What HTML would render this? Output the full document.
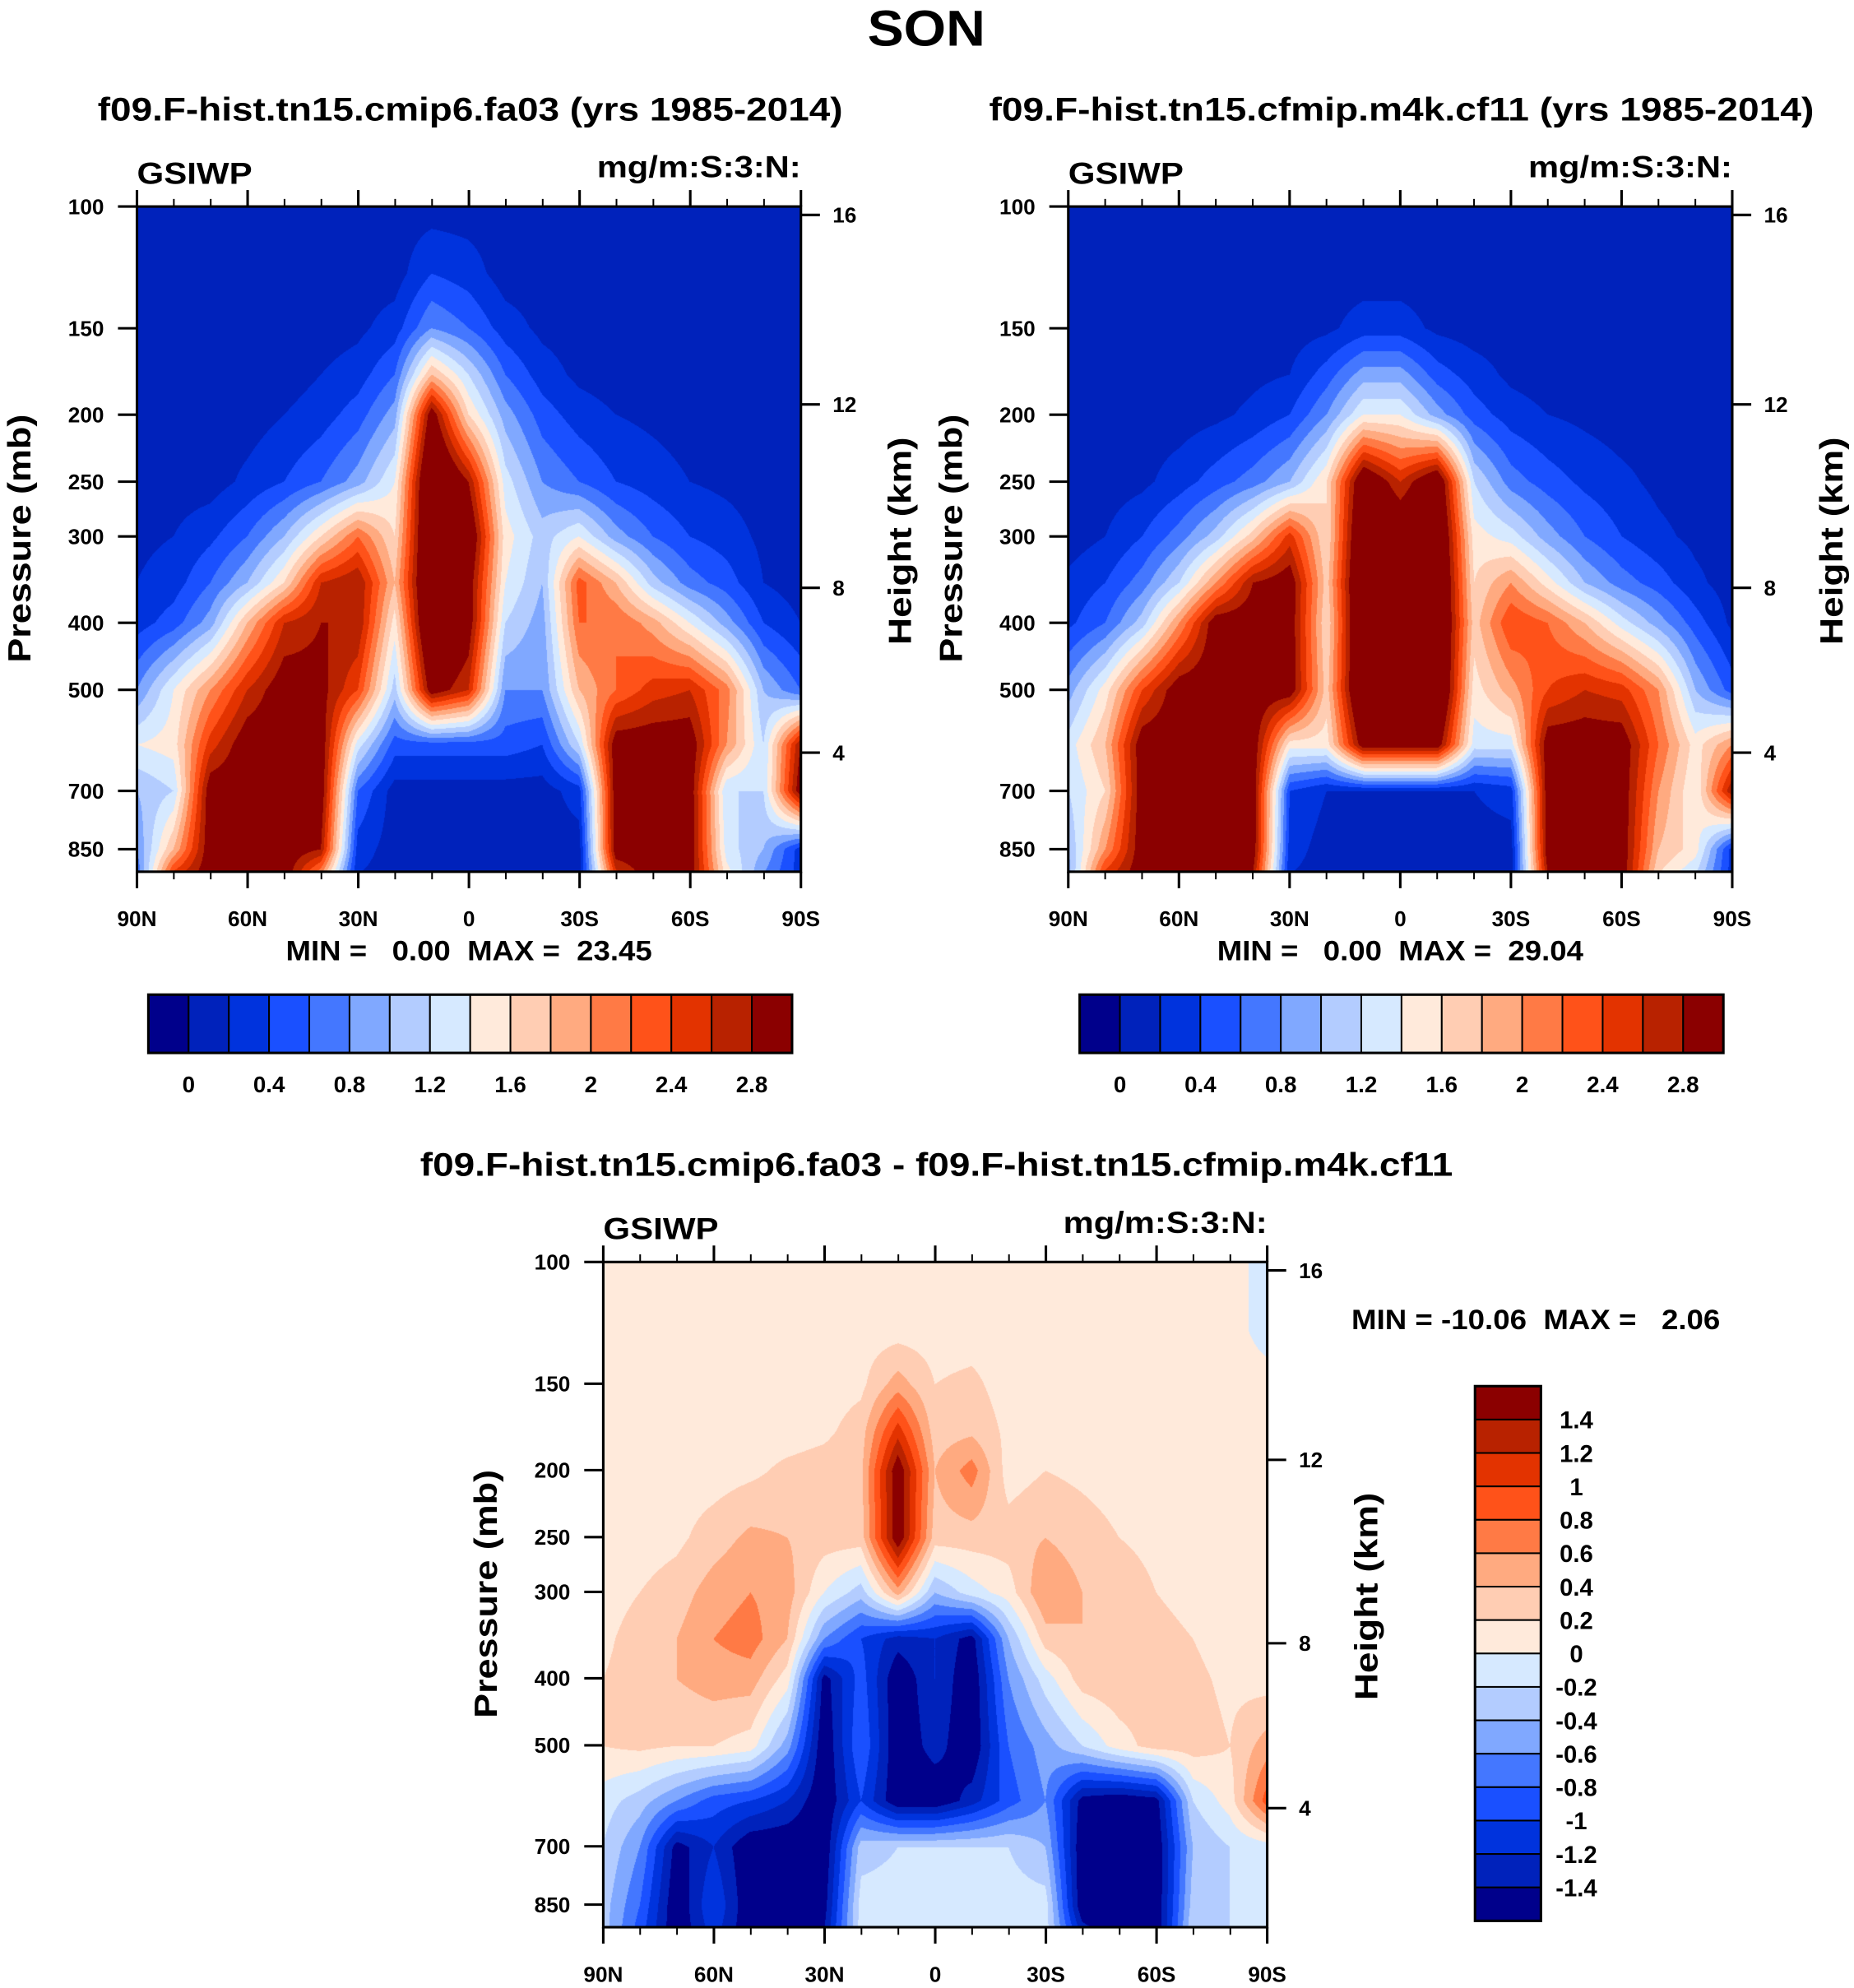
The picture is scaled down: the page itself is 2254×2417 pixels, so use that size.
<!DOCTYPE html>
<html><head><meta charset="utf-8"><style>
html,body{margin:0;padding:0;background:#fff}
#wrap{position:relative;width:2254px;height:2417px;overflow:hidden;background:#fff}
canvas{position:absolute}
svg{position:absolute;left:0;top:0}
text{font-family:"Liberation Sans",Arial,sans-serif;font-weight:bold;fill:#000}
</style></head><body>
<div id="wrap">
<canvas id="c0"></canvas>
<canvas id="c1"></canvas>
<canvas id="c2"></canvas>
<svg id="svg" width="2254" height="2417" viewBox="0 0 1463 1569"></svg>
</div>
<script>
// ---- data ----
const lats = [90,80,70,60,50,40,30,20,10,0,-10,-20,-30,-40,-50,-60,-70,-80,-90];
const levels = [100,125,150,175,200,250,300,350,400,500,600,700,850,925];
const ctrlValues = [
[0.1,0.1,0.1,0.1,0.1,0.1,0.1,0.1,0.1,0.1,0.1,0.1,0.1,0.1,0.1,0.1,0.1,0.1,0.1],
[0.1,0.1,0.1,0.1,0.1,0.1,0.1,0.1,0.4,0.3,0.1,0.1,0.1,0.1,0.1,0.1,0.1,0.1,0.1],
[0.1,0.1,0.1,0.1,0.1,0.1,0.15,0.3,0.8,0.6,0.3,0.15,0.1,0.1,0.1,0.1,0.1,0.1,0.1],
[0.1,0.1,0.1,0.1,0.1,0.2,0.3,0.6,1.8,1.2,0.6,0.3,0.15,0.1,0.1,0.1,0.1,0.1,0.1],
[0.1,0.1,0.1,0.1,0.2,0.3,0.5,0.9,3.0,1.6,0.9,0.5,0.3,0.2,0.15,0.1,0.1,0.1,0.1],
[0.1,0.1,0.1,0.25,0.4,0.6,0.9,1.4,3.5,2.8,1.3,0.8,0.6,0.4,0.3,0.2,0.15,0.1,0.1],
[0.15,0.2,0.35,0.6,1.0,1.6,2.2,1.6,3.5,3.2,1.5,1.1,1.4,0.9,0.6,0.4,0.3,0.15,0.1],
[0.2,0.3,0.6,1.0,1.6,2.6,2.8,1.8,3.5,3.0,1.4,1.0,2.3,1.8,1.1,0.7,0.5,0.2,0.1],
[0.3,0.5,0.9,1.8,2.6,2.8,2.8,1.5,3.5,3.0,1.2,0.9,2.2,2.2,1.9,1.4,0.9,0.4,0.2],
[0.8,1.4,2.0,2.6,3.0,2.9,2.4,1.1,3.0,2.6,0.8,0.8,1.8,2.2,2.5,2.6,2.1,1.0,0.6],
[1.4,1.5,2.5,3.0,3.0,3.0,1.3,0.5,0.5,0.5,0.5,0.4,1.2,3.0,3.0,3.0,2.0,1.2,2.8],
[1.0,1.2,3.0,3.0,3.0,3.0,0.6,0.1,0.1,0.1,0.1,0.1,0.3,3.0,3.0,3.0,1.2,1.2,3.0],
[0.8,1.8,3.0,3.0,3.0,2.8,0.3,0.1,0.1,0.1,0.1,0.1,0.1,3.0,3.0,3.0,1.3,1.0,0.3],
[0.6,2.5,3.0,3.0,3.0,2.0,0.2,0.1,0.1,0.1,0.1,0.1,0.1,2.5,3.0,3.0,1.5,0.8,0.3]];
const m4kValues = [
[0.1,0.1,0.1,0.1,0.1,0.1,0.1,0.1,0.1,0.1,0.1,0.1,0.1,0.1,0.1,0.1,0.1,0.1,0.1],
[0.1,0.1,0.1,0.1,0.1,0.1,0.1,0.1,0.1,0.1,0.1,0.1,0.1,0.1,0.1,0.1,0.1,0.1,0.1],
[0.1,0.1,0.1,0.1,0.1,0.1,0.1,0.15,0.3,0.3,0.15,0.1,0.1,0.1,0.1,0.1,0.1,0.1,0.1],
[0.1,0.1,0.1,0.1,0.1,0.15,0.2,0.5,0.9,0.9,0.5,0.3,0.15,0.1,0.1,0.1,0.1,0.1,0.1],
[0.1,0.1,0.1,0.1,0.15,0.25,0.4,0.8,1.4,1.4,0.9,0.5,0.3,0.2,0.15,0.1,0.1,0.1,0.1],
[0.1,0.1,0.15,0.3,0.5,0.7,1.0,1.6,3.2,2.6,3.2,1.2,0.7,0.5,0.35,0.25,0.15,0.1,0.1],
[0.1,0.2,0.4,0.7,1.1,1.7,2.5,1.6,3.4,3.2,3.4,1.5,1.3,0.9,0.6,0.4,0.25,0.15,0.1],
[0.25,0.4,0.7,1.2,2.0,2.8,3.0,1.7,3.5,3.5,3.5,1.6,2.0,1.5,1.0,0.7,0.5,0.25,0.1],
[0.35,0.6,1.1,2.0,3.0,3.0,3.0,1.6,3.5,3.5,3.5,1.7,2.4,2.2,1.8,1.3,0.9,0.5,0.15],
[0.9,1.5,2.4,3.0,3.0,3.0,3.0,1.7,3.5,3.5,3.5,1.5,1.9,2.4,2.6,2.5,2.0,1.0,0.5],
[1.3,1.8,3.0,3.0,3.0,3.0,1.5,1.5,3.0,3.0,3.0,1.3,1.3,3.0,3.0,3.0,2.2,1.5,2.0],
[1.2,1.6,3.0,3.0,3.0,3.0,0.4,0.2,0.2,0.2,0.2,0.2,0.3,3.0,3.0,3.0,2.0,1.4,2.8],
[1.0,2.0,3.0,3.0,3.0,3.0,0.3,0.1,0.1,0.1,0.1,0.1,0.1,3.0,3.0,3.0,1.8,1.5,0.3],
[0.9,2.5,3.0,3.0,3.0,2.8,0.2,0.1,0.1,0.1,0.1,0.1,0.1,2.8,3.0,3.0,1.6,1.2,0.3]];
const diffValues = [
[0.1,0.1,0.1,0.1,0.1,0.1,0.1,0.1,0.1,0.1,0.1,0.1,0.1,0.1,0.1,0.1,0.1,0.1,-0.1],
[0.1,0.1,0.1,0.1,0.1,0.1,0.1,0.1,0.1,0.1,0.1,0.1,0.1,0.1,0.1,0.1,0.1,0.1,-0.1],
[0.1,0.1,0.1,0.1,0.1,0.1,0.1,0.15,0.5,0.2,0.25,0.1,0.1,0.1,0.1,0.1,0.1,0.1,0.1],
[0.1,0.1,0.1,0.1,0.1,0.1,0.15,0.3,1.1,0.3,0.35,0.15,0.1,0.1,0.1,0.1,0.1,0.1,0.1],
[0.1,0.1,0.1,0.1,0.15,0.25,0.3,0.35,1.6,0.4,0.7,0.1,0.2,0.15,0.1,0.1,0.1,0.1,0.1],
[0.1,0.1,0.15,0.3,0.45,0.4,0.3,0.3,1.6,0.3,0.3,0.3,0.4,0.3,0.2,0.15,0.1,0.1,0.1],
[0.1,0.2,0.3,0.5,0.6,0.5,0.0,-0.3,0.5,-0.4,-0.1,0.1,0.6,0.4,0.3,0.2,0.15,0.1,0.1],
[0.15,0.3,0.4,0.6,0.7,0.4,-0.6,-1.0,-1.3,-1.2,-1.5,-0.4,0.3,0.4,0.35,0.25,0.2,0.1,0.1],
[0.2,0.3,0.4,0.5,0.5,0.1,-1.5,-0.9,-1.6,-1.2,-1.6,-0.6,-0.1,0.3,0.35,0.3,0.25,0.15,0.1],
[0.2,0.25,0.2,0.2,0.1,-0.5,-1.6,-0.8,-1.6,-1.3,-1.6,-0.8,-0.5,-0.2,0.1,0.3,0.3,0.2,0.5],
[-0.1,-0.3,-0.6,-0.9,-1.0,-1.2,-1.6,-1.0,-1.6,-1.6,-1.3,-0.9,-0.6,-1.5,-1.6,-1.5,-0.2,0.1,0.9],
[-0.2,-0.6,-1.5,-1.2,-1.6,-1.6,-1.6,-0.3,-0.2,-0.2,-0.2,-0.2,-0.4,-1.6,-1.6,-1.6,-0.4,-0.2,-0.1],
[-0.3,-0.8,-1.6,-1.0,-1.6,-1.6,-1.5,-0.1,-0.1,-0.1,-0.1,-0.1,-0.1,-1.6,-1.6,-1.6,-0.3,-0.2,-0.1],
[-0.3,-0.9,-1.6,-1.1,-1.6,-1.6,-1.4,-0.1,-0.1,-0.1,-0.1,-0.1,-0.1,-1.3,-1.6,-1.6,-0.2,-0.2,-0.1]];
const palette = ["#00008b","#0022bb","#0033dd","#1a50ff","#4477ff","#80a8ff","#b3ccff","#d6e9ff","#ffeadb","#ffcdb3","#ffaa80","#ff7a45","#ff5219","#e33300","#b82200","#8b0000"];
const mainLevels = [0,0.2,0.4,0.6,0.8,1,1.2,1.4,1.6,1.8,2,2.2,2.4,2.6,2.8];
const mainLabels = ["0","0.4","0.8","1.2","1.6","2","2.4","2.8"];
const diffLevels = [-1.4,-1.2,-1,-0.8,-0.6,-0.4,-0.2,0,0.2,0.4,0.6,0.8,1,1.2,1.4];
const diffLabels = ["-1.4","-1.2","-1","-0.8","-0.6","-0.4","-0.2","0","0.2","0.4","0.6","0.8","1","1.2","1.4"];
const pTicks = [100,150,200,250,300,400,500,700,850];
const zTicks = [16,12,8,4];
const latTicks = [90,60,30,0,-30,-60,-90];
const latTickLabels = ["90N","60N","30N","0","30S","60S","90S"];

// ---- layout ----
const S = 2254/1463;
const BW = 524, BH = 525, PBOT = 100*Math.exp(525/237);
const panels = [
 {x:108,y:163,vals:ctrlValues,lv:mainLevels,name:'control'},
 {x:843,y:163,vals:m4kValues,lv:mainLevels,name:'m4k'},
 {x:476,y:996,vals:diffValues,lv:diffLevels,name:'difference'}];
const NS='http://www.w3.org/2000/svg';
const svg=document.getElementById('svg');
function el(tag,attrs,parent){const e=document.createElementNS(NS,tag);for(const k in attrs)e.setAttribute(k,attrs[k]);(parent||svg).appendChild(e);return e;}
function txt(s,x,y,size,attrs,name){const t=el('text',Object.assign({x:x,y:y,'font-size':size},attrs||{}));t.textContent=s;
 
 
 return t;}
function xOf(P,lat){return P.x+BW*(90-lat)/180;}
function yOf(P,p){return P.y+BH*Math.log(p/100)/Math.log(PBOT/100);}
function pOfZ(z){return z<11?1013.25*Math.pow(1-z/44.33,5.256):226.3*Math.exp(-(z-11)/6.34);}
function colorIdx(v,lv){let i=0;while(i<lv.length&&v>=lv[i])i++;return i;}
function sample(vals,lat,p){
 let fi=(90-lat)/10; fi=Math.max(0,Math.min(lats.length-1.0001,fi));
 const lp=Math.log(p); let j=0;
 while(j<levels.length-2&&lp>Math.log(levels[j+1]))j++;
 let fj=(lp-Math.log(levels[j]))/(Math.log(levels[j+1])-Math.log(levels[j]));fj=Math.max(0,Math.min(1,fj));
 const i=Math.floor(fi),a=fi-i;
 const v00=vals[j][i],v01=vals[j][i+1],v10=vals[j+1][i],v11=vals[j+1][i+1];
 return (v00*(1-a)+v01*a)*(1-fj)+(v10*(1-a)+v11*a)*fj;}
function hex(c){return [parseInt(c.substr(1,2),16),parseInt(c.substr(3,2),16),parseInt(c.substr(5,2),16)];}
const rgb=palette.map(hex);

panels.forEach((P,k)=>{
 const cv=document.getElementById('c'+k);
 const W=Math.round(BW*S),H=Math.round(BH*S);
 cv.width=W;cv.height=H;cv.style.left=(P.x*S)+'px';cv.style.top=(P.y*S)+'px';
 const ctx=cv.getContext('2d');const img=ctx.createImageData(W,H);
 for(let py=0;py<H;py++){
  const p=100*Math.exp((py+0.5)/H*Math.log(PBOT/100));
  for(let px=0;px<W;px++){
   const lat=90-180*(px+0.5)/W;
   const c=rgb[colorIdx(sample(P.vals,lat,p),P.lv)];
   const o=(py*W+px)*4;img.data[o]=c[0];img.data[o+1]=c[1];img.data[o+2]=c[2];img.data[o+3]=255;}}
 ctx.putImageData(img,0,0);
 const fr=el('rect',{x:P.x,y:P.y,width:BW,height:BH,fill:'none',stroke:'#000','stroke-width':2});
 
 
 for(let lat=90;lat>=-90;lat-=10){
  const x=xOf(P,lat),maj=(lat%30===0),L=maj?13:6;
  el('line',{x1:x,y1:P.y,x2:x,y2:P.y-L,stroke:'#000','stroke-width':maj?2:1.3});
  el('line',{x1:x,y1:P.y+BH,x2:x,y2:P.y+BH+L,stroke:'#000','stroke-width':maj?2:1.3});}
 latTicks.forEach((lat,i)=>{txt(latTickLabels[i],xOf(P,lat),P.y+BH+43,17,{'text-anchor':'middle'},'x-tick-label');});
 pTicks.forEach(p=>{const y=yOf(P,p);el('line',{x1:P.x-15,y1:y,x2:P.x,y2:y,stroke:'#000','stroke-width':2});
  txt(String(p),P.x-26,y+6,17,{'text-anchor':'end'},'y-tick-label');});
 zTicks.forEach(z=>{const y=yOf(P,pOfZ(z));el('line',{x1:P.x+BW,y1:y,x2:P.x+BW+15,y2:y,stroke:'#000','stroke-width':2});
  txt(String(z),P.x+BW+25,y+6,17,{},'right-tick-label');});
 txt('Pressure (mb)',0,0,25,{'text-anchor':'middle',transform:`translate(${P.x-84},${P.y+262}) rotate(-90)`,textLength:196,lengthAdjust:'spacingAndGlyphs'},'y-axis-title');
 txt('Height (km)',0,0,25,{'text-anchor':'middle',transform:`translate(${P.x+BW+87},${P.y+264}) rotate(-90)`,textLength:164,lengthAdjust:'spacingAndGlyphs'},'right-axis-title');
 txt('GSIWP',P.x,P.y-18,24,{textLength:91,lengthAdjust:'spacingAndGlyphs'},'variable-label');
 txt('mg/m:S:3:N:',P.x+BW,P.y-23,24,{'text-anchor':'end',textLength:161,lengthAdjust:'spacingAndGlyphs'},'units-label');
});

txt('SON',731,36,40,{'text-anchor':'middle',textLength:93,lengthAdjust:'spacingAndGlyphs'},'figure-title');
txt('f09.F-hist.tn15.cmip6.fa03 (yrs 1985-2014)',371,95,26,{'text-anchor':'middle',textLength:588,lengthAdjust:'spacingAndGlyphs'},'control-title');
txt('f09.F-hist.tn15.cfmip.m4k.cf11 (yrs 1985-2014)',1106,95,26,{'text-anchor':'middle',textLength:651,lengthAdjust:'spacingAndGlyphs'},'m4k-title');
txt('f09.F-hist.tn15.cmip6.fa03 - f09.F-hist.tn15.cfmip.m4k.cf11',739,928,26,{'text-anchor':'middle',textLength:815,lengthAdjust:'spacingAndGlyphs'},'difference-title');
txt('MIN =   0.00  MAX =  23.45',370,758,22,{'text-anchor':'middle',style:'white-space:pre',textLength:289,lengthAdjust:'spacingAndGlyphs'},'control-min-max');
txt('MIN =   0.00  MAX =  29.04',1105,758,22,{'text-anchor':'middle',style:'white-space:pre',textLength:289,lengthAdjust:'spacingAndGlyphs'},'m4k-min-max');
txt('MIN = -10.06  MAX =   2.06',1212,1049,22,{'text-anchor':'middle',style:'white-space:pre',textLength:291,lengthAdjust:'spacingAndGlyphs'},'difference-min-max');

[117,852].forEach((x0,k)=>{
 const w=508/16;
 palette.forEach((c,i)=>{const r=el('rect',{x:x0+i*w,y:785,width:w,height:46,fill:c,stroke:'#000','stroke-width':1.3});
  
  });
 el('rect',{x:x0,y:785,width:508,height:46,fill:'none',stroke:'#000','stroke-width':2});
 mainLabels.forEach((s,i)=>{txt(s,x0+w*(1+2*i),862,18,{'text-anchor':'middle'},'colorbar-label');});
});
{const x0=1164,y0=1094,h=422/16;
 palette.slice().reverse().forEach((c,i)=>{const r=el('rect',{x:x0,y:y0+i*h,width:52,height:h,fill:c,stroke:'#000','stroke-width':1.3});
  
  });
 el('rect',{x:x0,y:y0,width:52,height:422,fill:'none',stroke:'#000','stroke-width':2});
 diffLabels.slice().reverse().forEach((s,i)=>{txt(s,1244,y0+h*(i+1)+7,19,{'text-anchor':'middle'},'diff-colorbar-label');});
}
</script>
</body></html>
